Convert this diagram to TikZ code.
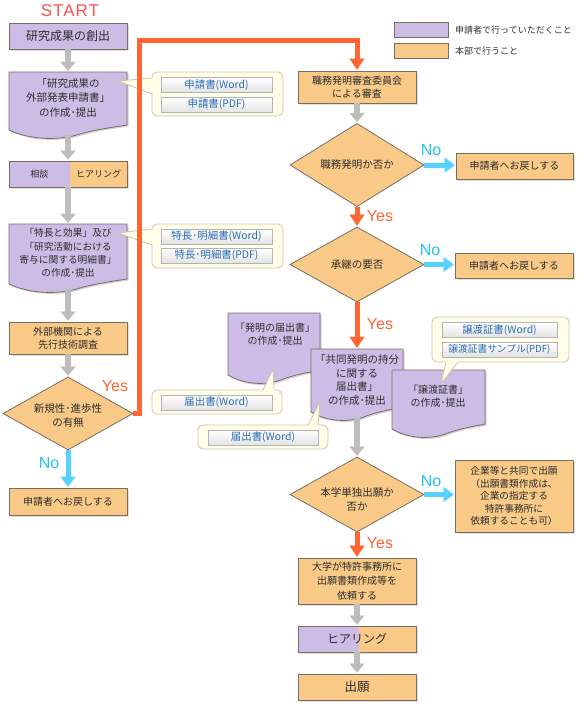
\documentclass[tikz,border=0pt]{standalone}
\usepackage{fontspec}
\setmainfont{Noto Sans CJK JP}
\newfontfamily\latinf{Liberation Sans}
\newfontfamily\startf[LetterSpace=6]{Liberation Sans}
\usetikzlibrary{arrows.meta,shapes.geometric,shadows}
\definecolor{purp}{HTML}{CDBDE6}
\definecolor{orng}{HTML}{F8C987}
\definecolor{bord}{HTML}{7A6E62}
\definecolor{garrow}{HTML}{BDBDBD}
\definecolor{redline}{HTML}{FF6633}
\definecolor{cyanline}{HTML}{55D2FF}
\definecolor{cyantext}{HTML}{22C4F0}
\definecolor{starttxt}{HTML}{FF5050}
\definecolor{callfill}{HTML}{FFFEE9}
\definecolor{callbord}{HTML}{CFC6A6}
\definecolor{btntext}{HTML}{2E6DB4}
\definecolor{btnbord}{HTML}{B4B4B4}
\definecolor{txt}{HTML}{2E2E2E}
\newcommand\docshape[4]{%
 \fill[black,opacity=0.18,shift={(1.5,1.5)}] (#1,#2) -- (#3,#2) -- (#3,{#4-13}) .. controls ({#1+0.9*(#3-#1)},{#4-11}) and ({#1+0.75*(#3-#1)},{#4-9}) .. ({#1+0.6*(#3-#1)},{#4-4}) .. controls ({#1+0.45*(#3-#1)},{#4+2}) and ({#1+0.2*(#3-#1)},{#4+3}) .. (#1,{#4-8}) -- cycle;
 \draw[docst] (#1,#2) -- (#3,#2) -- (#3,{#4-13}) .. controls ({#1+0.9*(#3-#1)},{#4-11}) and ({#1+0.75*(#3-#1)},{#4-9}) .. ({#1+0.6*(#3-#1)},{#4-4}) .. controls ({#1+0.45*(#3-#1)},{#4+2}) and ({#1+0.2*(#3-#1)},{#4+3}) .. (#1,{#4-8}) -- cycle;
}
\tikzset{
 every node/.style={text=txt},
 fbase/.style={font=\fontsize{10}{13.5}\selectfont},
 boxb/.style={draw=bord, line width=0.8pt, inner sep=0pt, align=center, fbase, drop shadow={shadow xshift=1.5pt, shadow yshift=-1.5pt, opacity=0.25}},
 pbox/.style={boxb, fill=purp},
 obox/.style={boxb, fill=orng},
 splitfill/.style={path picture={\fill[orng] ([xshift=2pt]path picture bounding box.north) rectangle (path picture bounding box.south east);}},
 dia/.style={diamond, draw=bord, line width=0.8pt, fill=orng, inner sep=0pt, align=center, font=\fontsize{10.5}{14}\selectfont},
 docst/.style={draw=bord, fill=purp, line width=0.8pt},
 area/.style={inner sep=0pt, draw=none},
 dtext/.style={align=center, inner sep=0pt, fbase},
 garr/.style={draw=garrow, line width=6pt, -{Triangle[length=9pt,width=15pt,line width=0.1pt]}, shorten >=1pt},
 rarr/.style={draw=redline, line width=5pt, -{Triangle[length=11pt,width=15pt,line width=0.1pt]}, shorten >=1pt},
 carr/.style={draw=cyanline, line width=5pt, -{Triangle[length=10pt,width=15pt,line width=0.1pt]}, shorten >=1pt},
 yeslab/.style={text=redline, font=\latinf\fontsize{16}{16}\selectfont},
 nolab/.style={text=cyantext, font=\latinf\fontsize{16}{16}\selectfont},
 btn/.style={draw=btnbord, line width=0.6pt, top color=white, bottom color=black!11, text=btntext, font=\fontsize{10.4}{11}\selectfont, inner sep=0pt, minimum height=15pt},
 callbox/.style={draw=callbord, fill=callfill, line width=0.8pt, rounded corners=5pt},
 calledge/.style={draw=callbord, line width=0.8pt, line join=round},
 legbox/.style={draw=bord, line width=0.8pt, minimum width=54pt, minimum height=15pt, inner sep=0pt},
 legtxt/.style={anchor=west, inner sep=0pt, font=\fontsize{9}{10}\selectfont}
}
\begin{document}
\begin{tikzpicture}[x=1pt,y=-1pt,line join=miter]
\fill[white] (0,0) rectangle (584,720);
\useasboundingbox (0,0) rectangle (584,720);

% legend
\node[legbox, fill=purp] (lp) at (421,29.5) {};
\node[legtxt] (lpt) at (455,30) {申請者で行っていただくこと};
\node[legbox, fill=orng] (lo) at (421,50.5) {};
\node[legtxt] (lot) at (455,51) {本部で行うこと};

% ---------- left column ----------
\node[font=\startf\fontsize{17}{18}\selectfont, text=starttxt] (start) at (70,11) {START};
\node[pbox, minimum width=118pt, minimum height=26pt, font=\fontsize{12}{14}\selectfont] (b1) at (68,36) {研究成果の創出};

\node[area, minimum width=118pt, minimum height=66pt] (d2) at (68,105) {};
\docshape{9}{72}{127}{138}
\node[dtext, font=\fontsize{10.5}{14.5}\selectfont] (d2t) at (68,98) {「研究成果の\\外部発表申請書」\\の作成･提出};

\node[pbox, splitfill, minimum width=118pt, minimum height=26pt] (b3) at (68,174) {};
\node[font=\fontsize{9}{10}\selectfont, inner sep=0pt] (b3a) at (39.5,174) {相談};
\node[font=\fontsize{9}{10}\selectfont, inner sep=0pt] (b3b) at (98.5,174) {ヒアリング};

\node[area, minimum width=118pt, minimum height=68pt] (d4) at (68,258) {};
\docshape{9}{224}{127}{292}
\node[dtext, font=\fontsize{9.7}{13.3}\selectfont] (d4t) at (68,253) {「特長と効果」及び\\「研究活動における\\寄与に関する明細書」\\の作成･提出};

\node[obox, minimum width=118pt, minimum height=32pt] (b5) at (68,338) {外部機関による\\先行技術調査};
\node[dia, minimum width=130pt, minimum height=73pt] (dl) at (68,413.5) {};
\node[dtext, font=\fontsize{10.5}{14}\selectfont] (dlt) at (68,416) {新規性･進歩性\\の有無};
\node[obox, minimum width=118pt, minimum height=27pt] (b6) at (68,501.5) {申請者へお戻しする};

\draw[garr] (b1.south) -- (d2.north);
\draw[garr] ([yshift=3pt]d2.south) -- (b3.north);
\draw[garr] (b3.south) -- (d4.north);
\draw[garr] ([yshift=3pt]d4.south) -- (b5.north);
\draw[garr] (b5.south) -- (dl.north);
\draw[carr] (dl.south) -- (b6.north);
\node[nolab] (no1) at (49,463) {No};
\node[yeslab] (yes1) at (115,386) {Yes};

% callouts left
\draw[callbox] (152,72) rectangle (283,116);
\fill[callfill] (118,81) -- (153.5,77.8) -- (153.5,94.3) -- cycle;
\draw[calledge] (152,78) -- (118,81) -- (152,94);
\node[btn, minimum width=111pt] (bw1) at (216.5,85) {申請書(Word)};
\node[btn, minimum width=111pt] (bp1) at (216.5,104.5) {申請書(PDF)};

\draw[callbox] (152,224) rectangle (283,268);
\fill[callfill] (118,233) -- (153.5,228.8) -- (153.5,245.3) -- cycle;
\draw[calledge] (152,229) -- (118,233) -- (152,245);
\node[btn, minimum width=111pt] (bw2) at (216.5,236.5) {特長･明細書(Word)};
\node[btn, minimum width=111pt] (bp2) at (216.5,255.5) {特長･明細書(PDF)};

% ---------- right column ----------
\node[obox, minimum width=118pt, minimum height=32pt] (r1) at (357,87) {職務発明審査委員会\\による審査};
\coordinate (oc) at (139.5,40);
\draw[rarr] (dl.east) -| (oc) -| (r1.north);

\node[dia, minimum width=134pt, minimum height=74pt] (r2) at (357,165) {職務発明か否か};
\node[obox, minimum width=117pt, minimum height=26pt] (rn1) at (514.5,166) {申請者へお戻しする};
\draw[garr] (r1.south) -- (r2.north);
\draw[carr] (r2.east) -- (r2.east -| rn1.west);
\node[nolab] (no2) at (431,150) {No};

\node[dia, minimum width=134pt, minimum height=75pt] (r3) at (357,264.5) {承継の要否};
\node[obox, minimum width=118pt, minimum height=25pt] (rn2) at (514,265.5) {申請者へお戻しする};
\draw[rarr] (r2.south) -- (r3.north);
\node[yeslab] (yes2) at (380,216) {Yes};
\draw[carr] (r3.east) -- (r3.east -| rn2.west);
\node[nolab] (no3) at (430,250) {No};

% documents
\node[area, minimum width=92pt, minimum height=70pt] (dA) at (274,348) {};
\docshape{228}{313}{320}{383}
\node[dtext] (dAt) at (275,334) {「発明の届出書」\\の作成･提出};

\node[area, minimum width=92pt, minimum height=71pt] (dB) at (357,384.5) {};
\docshape{311}{349}{403}{420}
\node[dtext, font=\fontsize{10.5}{13.5}\selectfont] (dBt) at (357,380) {「共同発明の持分\\に関する\\届出書」\\の作成･提出};

\node[area, minimum width=93pt, minimum height=67pt] (dC) at (438.5,403.5) {};
\docshape{392}{370}{485}{437}
\node[dtext] (dCt) at (438,396) {「譲渡証書」\\の作成･提出};

\draw[rarr] (r3.south) -- (dB.north);
\node[yeslab] (yes3) at (380,324) {Yes};

% callouts right
\draw[callbox] (152,390) rectangle (282,414);
\fill[callfill] (273,369) -- (262.5,391.5) -- (274.5,391.5) -- cycle;
\draw[calledge] (263,390) -- (273,369) -- (274,390);
\node[btn, minimum width=111pt] (bwA) at (216.5,402.5) {届出書(Word)};

\draw[callbox] (198,425) rectangle (328,449);
\fill[callfill] (320,402) -- (307.5,426.5) -- (318.5,426.5) -- cycle;
\draw[calledge] (308,425) -- (320,402) -- (318,425);
\node[btn, minimum width=110pt] (bwB) at (263,437.5) {届出書(Word)};

\draw[callbox] (432,317) rectangle (569,362);
\fill[callfill] (441,384) -- (445.5,360.5) -- (458.5,360.5) -- cycle;
\draw[calledge] (446,362) -- (441,384) -- (458,362);
\node[btn, minimum width=115pt] (bwC) at (499.5,330) {譲渡証書(Word)};
\node[btn, minimum width=115pt, font=\fontsize{9.7}{11}\selectfont] (bpC) at (499.5,349.5) {譲渡証書サンプル(PDF)};

% lower right
\node[dia, minimum width=134pt, minimum height=75pt] (r4) at (357,494.5) {};
\node[dtext, font=\fontsize{10.5}{14}\selectfont] (r4t) at (357,499) {本学単独出願か\\否か};
\draw[garr] ([yshift=3pt]dB.south) -- (r4.north);
\node[obox, minimum width=118pt, minimum height=72pt, font=\fontsize{9.7}{12.6}\selectfont] (rn3) at (514,496) {企業等と共同で出願\\（出願書類作成は、\\企業の指定する\\特許事務所に\\依頼することも可）};
\draw[carr] (r4.east) -- (r4.east -| rn3.west);
\node[nolab] (no4) at (431,481) {No};

\node[obox, minimum width=118pt, minimum height=46pt, font=\fontsize{10}{14.5}\selectfont] (r5) at (357,581) {大学が特許事務所に\\出願書類作成等を\\依頼する};
\draw[rarr] (r4.south) -- (r5.north);
\node[yeslab] (yes4) at (380,543) {Yes};

\node[pbox, splitfill, minimum width=118pt, minimum height=26pt, font=\fontsize{12}{14}\selectfont] (r6) at (357,639) {ヒアリング};
\node[obox, minimum width=118pt, minimum height=26pt, font=\fontsize{12.5}{14}\selectfont] (r7) at (357,687) {出願};
\draw[garr] (r5.south) -- (r6.north);
\draw[garr] (r6.south) -- (r7.north);
\end{tikzpicture}
\end{document}
